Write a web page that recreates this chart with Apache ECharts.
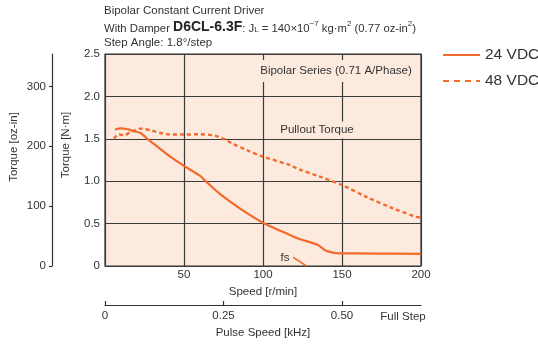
<!DOCTYPE html>
<html><head><meta charset="utf-8">
<script src="https://cdn.jsdelivr.net/npm/echarts@6/dist/echarts.min.js"></script>
<style>html,body{margin:0;padding:0;background:#fff}#c{width:538px;height:346px}</style>
</head><body><div id="c"></div>
<script>
// ---- data ----
const speed24  = [6.3, 9.9, 14, 18.3, 22.5, 26.8, 33, 41.5, 50, 60, 64, 72.7, 85.3, 100, 114.8, 123.2, 134.5, 140, 146.4, 150, 170, 200];
const torque24 = [1.61, 1.624, 1.615, 1.59, 1.568, 1.50, 1.41, 1.286, 1.18, 1.065, 0.995, 0.85, 0.68, 0.51, 0.385, 0.318, 0.25, 0.18, 0.152, 0.149, 0.147, 0.142];
const speed48  = [5.7, 8.8, 12, 16.2, 22.5, 28.9, 35.2, 41.5, 50, 60, 69, 75, 81, 90, 100, 117, 123.2, 135.9, 150.2, 165.4, 182.2, 197, 200];
const torque48 = [1.50, 1.553, 1.54, 1.58, 1.62, 1.60, 1.568, 1.55, 1.55, 1.553, 1.54, 1.50, 1.44, 1.365, 1.29, 1.19, 1.137, 1.055, 0.953, 0.815, 0.68, 0.58, 0.575];
const fsSpeed  = [119, 127.5];
const fsTorque = [0.105, 0];
const seriesNames = ['24 VDC', '48 VDC'];
const speedTicks = [0, 50, 100, 150, 200];
const nmTicks = [0, 0.5, 1.0, 1.5, 2.0, 2.5];
const ozTicks = [0, 100, 200, 300];
const khzTicks = [0, 0.25, 0.5];
const OZIN_PER_NM = 141.612;
const SPEED_MAX = 200;              // r/min
const KHZ_MAX = SPEED_MAX * 200 / 60 / 1000; // 1.8°/step -> 200 steps/rev

const zip = (a, b) => a.map((v, i) => [v, b[i]]);
const ORANGE = '#f26a2c';
const TXT = '#333';
const FONT = '"Liberation Sans", Arial, sans-serif';

const chart = echarts.init(document.getElementById('c'), null, {renderer: 'canvas'});
chart.setOption({
  animation: false,
  textStyle: {fontFamily: FONT},
  grid: {left: 105, right: 117, top: 54, bottom: 80, show: true, backgroundColor: '#fdeadf', borderColor: '#333', borderWidth: 1.2},
  legend: {
    orient: 'vertical', left: 442, top: 47, padding: 0, itemWidth: 37, itemHeight: 16, itemGap: 10,
    itemStyle: {opacity: 0},
    textStyle: {fontSize: 15.5, color: TXT, fontFamily: FONT, lineHeight: 16},
    data: [{name: seriesNames[0]}, {name: seriesNames[1], lineStyle: {type: [6, 5]}}]
  },
  xAxis: [
    {type: 'value', min: speedTicks[0], max: speedTicks[speedTicks.length-1], interval: 50,
     axisLine: {show: false}, axisTick: {show: false},
     splitLine: {show: true, lineStyle: {color: '#3a3a3a', width: 1.2}},
     axisLabel: {showMinLabel: false, margin: 3, fontSize: 11.5, color: TXT},
     name: 'Speed [r/min]', nameLocation: 'middle', nameGap: 18, nameTextStyle: {fontSize: 11.5, color: TXT}},
    {type: 'value', position: 'bottom', offset: 39, min: 0, max: KHZ_MAX,
     axisLine: {show: true, onZero: false, lineStyle: {color: '#333', width: 1.2}},
     axisTick: {show: true, inside: true, length: 4, customValues: khzTicks, lineStyle: {color: '#333', width: 1.2}},
     splitLine: {show: false},
     axisLabel: {customValues: khzTicks, margin: 5, fontSize: 11.5, color: TXT, formatter: v => v === 0 ? '0' : v.toFixed(2)},
     name: 'Pulse Speed [kHz]', nameLocation: 'middle', nameGap: 22, nameTextStyle: {fontSize: 11.5, color: TXT}}
  ],
  yAxis: [
    {type: 'value', min: 0, max: nmTicks[nmTicks.length-1], interval: 0.5,
     axisLine: {show: false}, axisTick: {show: false},
     splitLine: {show: true, lineStyle: {color: '#3a3a3a', width: 1.2}},
     axisLabel: {margin: 5, fontSize: 11.5, color: TXT, formatter: v => v === 0 ? '0' : v.toFixed(1)}},
    {type: 'value', position: 'left', offset: 53, min: 0, max: nmTicks[nmTicks.length-1] * OZIN_PER_NM,
     axisLine: {show: true, onZero: false, lineStyle: {color: '#333', width: 1.2}},
     axisTick: {show: true, length: 3, customValues: ozTicks, lineStyle: {color: '#333', width: 1.2}},
     splitLine: {show: false},
     axisLabel: {customValues: ozTicks, margin: 6, fontSize: 11.5, color: TXT}}
  ],
  series: [
    {name: seriesNames[0], type: 'line', data: zip(speed24, torque24), smooth: 0.3, symbol: 'none',
     lineStyle: {color: ORANGE, width: 2.2}, itemStyle: {color: ORANGE}, z: 5},
    {name: seriesNames[1], type: 'line', data: zip(speed48, torque48), smooth: 0.3, symbol: 'none',
     lineStyle: {color: ORANGE, width: 2.4, type: [4, 3]}, itemStyle: {color: ORANGE}, z: 5},
    {name: 'fs', type: 'line', data: zip(fsSpeed, fsTorque), symbol: 'none', clip: true,
     lineStyle: {color: ORANGE, width: 1.5}, z: 5}
  ],
  graphic: [
    {type: 'text', x: 104, y: 11, style: {text: 'Bipolar Constant Current Driver', font: '11.5px ' + FONT, fill: TXT, textVerticalAlign: 'middle'}},
    {type: 'text', x: 104, y: 27, style: {
      text: '{n|With Damper }{b|D6CL-6.3F}{n|: J}{s|L}{n| = 140×10}{p|−7}{n| kg·m}{p|2}{n| (0.77 oz-in}{p|2}{n|)}',
      fill: TXT, textVerticalAlign: 'middle',
      rich: {
        n: {fontSize: 11.3, fontFamily: FONT, lineHeight: 14, verticalAlign: 'bottom', fill: TXT},
        b: {fontSize: 14, fontWeight: 'bold', fontFamily: FONT, lineHeight: 14, verticalAlign: 'bottom', fill: '#222'},
        s: {fontSize: 8, fontFamily: FONT, lineHeight: 10, verticalAlign: 'bottom', fill: TXT},
        p: {fontSize: 8, fontFamily: FONT, lineHeight: 6, verticalAlign: 'top', fill: TXT}
      }}},
    {type: 'text', x: 104, y: 43, style: {text: 'Step Angle: 1.8°/step', font: '11.5px ' + FONT, fill: TXT, textVerticalAlign: 'middle'}},
    {type: 'text', x: 13.5, y: 147, rotation: Math.PI / 2, style: {text: 'Torque [oz-in]', font: '11.5px ' + FONT, fill: TXT, textAlign: 'center', textVerticalAlign: 'middle'}},
    {type: 'text', x: 66, y: 145, rotation: Math.PI / 2, style: {text: 'Torque [N·m]', font: '11.5px ' + FONT, fill: TXT, textAlign: 'center', textVerticalAlign: 'middle'}},
    {type: 'text', x: 336, y: 71, z: 3, style: {text: 'Bipolar Series (0.71 A/Phase)', font: '11.5px ' + FONT, fill: TXT, textAlign: 'center', textVerticalAlign: 'middle', backgroundColor: '#fdeadf', padding: [6, 3, 4, 3]}},
    {type: 'text', x: 317, y: 130, z: 3, style: {text: 'Pullout Torque', font: '11.5px ' + FONT, fill: TXT, textAlign: 'center', textVerticalAlign: 'middle', backgroundColor: '#fdeadf', padding: [3, 3, 2, 3]}},
    {type: 'text', x: 285, y: 258, z: 3, style: {text: 'fs', font: '11.5px ' + FONT, fill: TXT, textAlign: 'center', textVerticalAlign: 'middle'}},
    {type: 'text', x: 403, y: 317, style: {text: 'Full Step', font: '11.5px ' + FONT, fill: TXT, textAlign: 'center', textVerticalAlign: 'middle'}}
  ]
});
</script></body></html>
